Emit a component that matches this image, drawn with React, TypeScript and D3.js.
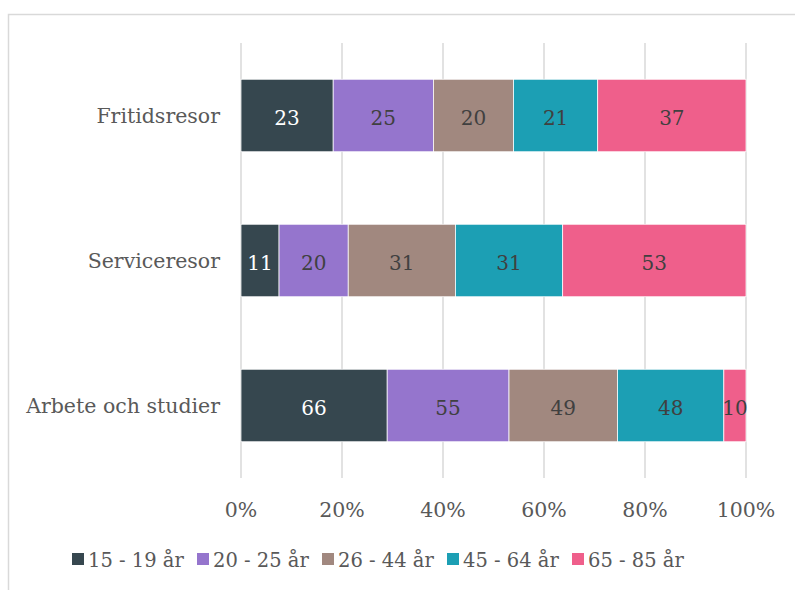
import { useEffect, useRef } from "react"
import * as d3 from "d3"

const categories = ["Fritidsresor", "Serviceresor", "Arbete och studier"]
const seriesNames = ["15 - 19 år", "20 - 25 år", "26 - 44 år", "45 - 64 år", "65 - 85 år"]
const ageYoung = [23, 11, 66]
const ageStudent = [25, 20, 55]
const ageAdult = [20, 31, 49]
const ageMiddle = [21, 31, 48]
const ageSenior = [37, 53, 10]
const tickLabels = ["0%", "20%", "40%", "60%", "80%", "100%"]

const colors = ["#36474f", "#9575cd", "#a1887f", "#1c9fb4", "#ef5f8b"]
const labelColors = ["#ffffff", "#404040", "#404040", "#404040", "#404040"]
const FONT = "'DejaVu Serif', Georgia, serif"

const App = () => {
  const svgRef = useRef<SVGSVGElement>(null)

  useEffect(() => {
    const svg = d3.select(svgRef.current)
    svg.selectAll("*").remove()

    const width = 795
    const height = 590
    const series = [ageYoung, ageStudent, ageAdult, ageMiddle, ageSenior]

    // chart frame (cut off by the window on right and bottom)
    svg.append("rect").attr("width", width).attr("height", height).attr("fill", "#fff")
    svg
      .append("path")
      .attr("d", `M8.5,${height + 2}V14.5H${width + 2}`)
      .attr("fill", "none")
      .attr("stroke", "#d9d9d9")
      .attr("stroke-width", 1.5)

    const x = d3.scaleLinear().domain([0, 1]).range([241, 746])
    const y = d3.scaleBand().domain(categories).range([43, 478]).paddingInner(0.5).paddingOuter(0.25)

    // gridlines
    svg
      .append("g")
      .selectAll("line")
      .data(tickLabels)
      .join("line")
      .attr("x1", (_, i) => x(i / 5))
      .attr("x2", (_, i) => x(i / 5))
      .attr("y1", 43)
      .attr("y2", 478)
      .attr("stroke", "#d9d9d9")
      .attr("stroke-width", 1.5)

    // stacked data
    const rows = categories.map((c, ci) => {
      const total = d3.sum(series, (s) => s[ci])
      let acc = 0
      return series.map((s, si) => {
        const v = s[ci]
        const seg = { cat: c, si, v, x0: acc / total, x1: (acc + v) / total }
        acc += v
        return seg
      })
    })

    const bars = svg.append("g")
    rows.forEach((segs) => {
      bars
        .selectAll(null)
        .data(segs)
        .join("rect")
        .attr("x", (d) => x(d.x0))
        .attr("width", (d) => x(d.x1) - x(d.x0))
        .attr("y", (d) => y(d.cat)!)
        .attr("height", y.bandwidth())
        .attr("fill", (d) => colors[d.si])
        .attr("stroke", "#ffffff")
        .attr("stroke-width", 0.75)

      bars
        .selectAll(null)
        .data(segs)
        .join("text")
        .attr("x", (d) => x((d.x0 + d.x1) / 2))
        .attr("y", (d) => y(d.cat)! + y.bandwidth() / 2 + 2)
        .attr("text-anchor", "middle")
        .attr("dominant-baseline", "central")
        .style("font-family", FONT)
        .style("font-size", "20px")
        .style("fill", (d) => labelColors[d.si])
        .text((d) => d.v)
    })

    // category labels
    svg
      .append("g")
      .selectAll("text")
      .data(categories)
      .join("text")
      .attr("x", 220)
      .attr("y", (d) => y(d)! + y.bandwidth() / 2)
      .attr("text-anchor", "end")
      .attr("dominant-baseline", "central")
      .style("font-family", FONT)
      .style("font-size", "20.5px")
      .style("fill", "#595959")
      .text((d) => d)

    // x tick labels
    svg
      .append("g")
      .selectAll("text")
      .data(tickLabels)
      .join("text")
      .attr("x", (_, i) => x(i / 5))
      .attr("y", 517)
      .attr("text-anchor", "middle")
      .style("font-family", FONT)
      .style("font-size", "20.5px")
      .style("fill", "#595959")
      .text((d) => d)

    // legend
    const legend = svg
      .append("g")
      .selectAll("g")
      .data(seriesNames)
      .join("g")
      .attr("transform", (_, i) => `translate(${72 + i * 125},0)`)
    legend
      .append("rect")
      .attr("y", 553)
      .attr("width", 12)
      .attr("height", 12)
      .attr("fill", (_, i) => colors[i])
    legend
      .append("text")
      .attr("x", 16)
      .attr("y", 567)
      .style("font-family", FONT)
      .style("font-size", "19.5px")
      .style("fill", "#595959")
      .text((d) => d)
  }, [])

  return <svg ref={svgRef} width={795} height={590} style={{ position: "absolute", left: 0, top: 0 }}></svg>
}

export default App
